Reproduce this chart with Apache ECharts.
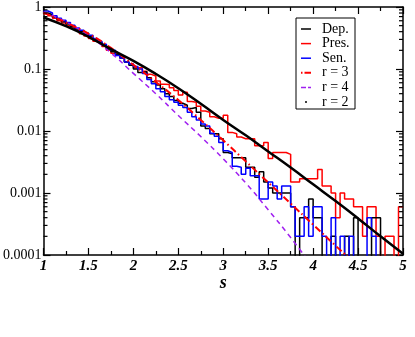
<!DOCTYPE html>
<html>
<head>
<meta charset="utf-8">
<script src="https://cdn.jsdelivr.net/npm/echarts@6/dist/echarts.min.js"></script>
<style>
html,body{margin:0;padding:0;background:#fff;}
#chart{width:415px;height:337px;}
</style>
</head>
<body>
<div id="chart"></div>
<script>
// histogram bins start at s = 1, width 0.05 (80 bins); 0 = empty bin
var binStart = 1.0, binWidth = 0.05;

var dep = [
	0.80, 0.75, 0.69, 0.63, 0.58, 0.53, 0.48, 0.44, 0.40, 0.36,
	0.33, 0.30, 0.27, 0.24, 0.21, 0.19, 0.17, 0.15, 0.13, 0.115,
	0.10, 0.088, 0.090, 0.072, 0.062, 0.055, 0.048, 0.040, 0.036, 0.031,
	0.028, 0.026, 0.023, 0.024, 0.020, 0.012, 0.011, 0.009, 0.009, 0.0075,
	0.0045, 0.0043, 0.0037, 0.0037, 0.0037, 0.0026, 0.0026, 0.0018, 0.0022, 0.0015,
	0.0012, 0.0010, 0.0010, 0.0010, 0.0010, 0.0006, 0, 0.0004, 0.0004, 0.0008,
	0.0004, 0.0004, 0, 0, 0.0002, 0, 0, 0.0002, 0, 0.0004,
	0, 0, 0, 0.0004, 0.0004, 0, 0, 0, 0, 0
];
var pres = [
	0.78, 0.72, 0.66, 0.60, 0.55, 0.50, 0.46, 0.42, 0.37, 0.34,
	0.31, 0.28, 0.27, 0.23, 0.20, 0.18, 0.17, 0.15, 0.13, 0.12,
	0.105, 0.105, 0.092, 0.082, 0.077, 0.064, 0.057, 0.056, 0.050, 0.045,
	0.038, 0.042, 0.030, 0.029, 0.025, 0.021, 0.020, 0.017, 0.016, 0.016,
	0.018, 0.0095, 0.0090, 0.0080, 0.0075, 0.0075, 0.0075, 0.0058, 0.0058, 0.0065,
	0.0036, 0.0045, 0.0045, 0.0045, 0.0042, 0.0015, 0.0015, 0.0017, 0.0017, 0.0017,
	0.0017, 0.0024, 0.0013, 0.0013, 0.0010, 0.0004, 0.0010, 0.0008, 0.0008, 0.0006,
	0.0006, 0.0002, 0.0006, 0.0006, 0.0002, 0, 0.0002, 0.0002, 0, 0.0006
];
var sen = [
	0.86, 0.80, 0.72, 0.66, 0.61, 0.56, 0.51, 0.46, 0.42, 0.38,
	0.35, 0.31, 0.28, 0.25, 0.22, 0.20, 0.165, 0.15, 0.13, 0.12,
	0.11, 0.10, 0.085, 0.068, 0.058, 0.048, 0.043, 0.036, 0.032, 0.029,
	0.026, 0.024, 0.020, 0.017, 0.015, 0.013, 0.012, 0.0092, 0.0082, 0.0065,
	0.0048, 0.0045, 0.0027, 0.0026, 0.0020, 0.0025, 0.0019, 0.0019, 0.0008, 0.0008,
	0.0015, 0.0013, 0.0008, 0.0013, 0.0013, 0.0006, 0.0002, 0.0002, 0.0006, 0.0002,
	0.0006, 0.0006, 0.0002, 0, 0.0004, 0, 0.0002, 0, 0.0002, 0,
	0, 0, 0.0004, 0.0002, 0, 0, 0, 0, 0, 0
];

// model curves
var r2S = [1, 1.25, 1.5, 1.75, 2, 2.25, 2.5, 2.75, 3, 3.25, 3.5, 3.75, 4, 4.25, 4.5, 4.75, 5];
var r2 = [0.676, 0.490, 0.331, 0.209, 0.135, 0.0832, 0.0490, 0.0275, 0.0151, 0.00851,
	0.00468, 0.00257, 0.00138, 0.000741, 0.000389, 0.000200, 0.000105];
var r3S = [1, 1.25, 1.5, 1.75, 2, 2.25, 2.5, 2.75, 3, 3.25, 3.5, 3.75, 4, 4.25, 4.4, 4.5];
var r3 = [0.813, 0.562, 0.372, 0.219, 0.117, 0.0617, 0.0316, 0.0151, 0.00708, 0.00324,
	0.00148, 0.000676, 0.000309, 0.000141, 0.0000891, 0.000063];
var r4S = [1, 1.25, 1.5, 1.75, 2, 2.25, 2.5, 2.75, 3, 3.25, 3.5, 3.75, 4];
var r4 = [0.832, 0.575, 0.347, 0.182, 0.0851, 0.0398, 0.0178, 0.00813, 0.00355, 0.00145,
	0.000537, 0.000191, 0.0000631];

var legendNames = ['Dep.', 'Pres.', 'Sen.', 'r = 3', 'r = 4', 'r = 2'];

var serif = 'Liberation Serif';

function steps(vals) {
	var pts = vals.map(function (v, i) {
		return [binStart + i * binWidth, v > 0 ? v : 1e-8];
	});
	pts.push([binStart + vals.length * binWidth, pts[pts.length - 1][1]]);
	return pts;
}
function pairs(xs, ys) {
	return xs.map(function (x, i) { return [x, ys[i]]; });
}

// minor ticks of the log axis (2..9 in each decade)
var minorVals = [];
[1e-4, 1e-3, 1e-2, 1e-1].forEach(function (d) {
	for (var m = 2; m <= 9; m++) minorVals.push([1, m * d]);
});

var chart = echarts.init(document.getElementById('chart'));

var axisLineStyle = {color: '#000', width: 1.5};

option = {
	animation: false,
	grid: {left: 43, top: 2, width: 360, height: 253},
	xAxis: [{
		type: 'value', min: 1, max: 5, interval: 0.5, position: 'bottom',
		name: 's', nameLocation: 'middle', nameGap: 19, nameMoveOverlap: false,
		nameTextStyle: {fontFamily: serif, fontWeight: 'bold', fontStyle: 'italic', fontSize: 18, color: '#000'},
		axisLine: {onZero: false, lineStyle: axisLineStyle},
		axisTick: {inside: true, length: 7, lineStyle: {color: '#000', width: 1.2}},
		minorTick: {show: true, splitNumber: 2, length: 4, lineStyle: {color: '#000', width: 1.2}},
		axisLabel: {fontFamily: serif, fontWeight: 'bold', fontStyle: 'italic', fontSize: 15, color: '#000', margin: 4},
		splitLine: {show: false}
	}, {
		type: 'value', min: 1, max: 5, interval: 0.5, position: 'top',
		axisLine: {onZero: false, lineStyle: axisLineStyle},
		axisTick: {inside: true, length: 7, lineStyle: {color: '#000', width: 1.2}},
		minorTick: {show: true, splitNumber: 2, length: 4, lineStyle: {color: '#000', width: 1.2}},
		axisLabel: {show: false},
		splitLine: {show: false}
	}],
	yAxis: [{
		type: 'log', logBase: 10, min: 0.0001, max: 1, position: 'left',
		axisLine: {show: true, onZero: false, lineStyle: axisLineStyle},
		axisTick: {show: true, inside: true, length: 7, lineStyle: {color: '#000', width: 1.2}},
		axisLabel: {fontFamily: serif, fontSize: 14, color: '#000', margin: 2,
			formatter: function (v) { return String(+v.toPrecision(1)); }},
		splitLine: {show: false}
	}, {
		type: 'log', logBase: 10, min: 0.0001, max: 1, position: 'right',
		axisLine: {show: true, onZero: false, lineStyle: axisLineStyle},
		axisTick: {show: true, inside: true, length: 7, lineStyle: {color: '#000', width: 1.2}},
		axisLabel: {show: false},
		splitLine: {show: false}
	}],
	series: [
	{
		name: 'Pres.', type: 'line', step: 'end', symbol: 'none',
		lineStyle: {color: '#ff0000', width: 1.5}, data: steps(pres)
	},
	{
		name: 'Dep.', type: 'line', step: 'end', symbol: 'none',
		lineStyle: {color: '#000', width: 1.5}, data: steps(dep)
	},
	{
		name: 'Sen.', type: 'line', step: 'end', symbol: 'none',
		lineStyle: {color: '#0000ff', width: 1.5}, data: steps(sen)
	},
	{
		name: 'r = 4', type: 'line', smooth: true, symbol: 'none',
		lineStyle: {color: '#a020f0', width: 1.5, type: [5, 4]}, data: pairs(r4S, r4)
	},
	{
		name: 'r = 3', type: 'line', smooth: true, symbol: 'none',
		lineStyle: {color: '#ff0000', width: 2, type: [7, 3, 1.5, 3]}, data: pairs(r3S, r3)
	},
	{
		name: 'r = 2', type: 'line', smooth: true, symbol: 'none',
		lineStyle: {color: '#000', width: 2.5}, data: pairs(r2S, r2)
	},
	{
		type: 'custom', silent: true, z: 10,
		data: minorVals,
		renderItem: function (params, api) {
			var v = api.value(1);
			var a = api.coord([1, v]);
			var b = api.coord([5, v]);
			var st = {stroke: '#000', lineWidth: 1.2};
			return {type: 'group', children: [
				{type: 'line', shape: {x1: a[0], y1: a[1], x2: a[0] + 4, y2: a[1]}, style: st},
				{type: 'line', shape: {x1: b[0] - 4, y1: b[1], x2: b[0], y2: b[1]}, style: st}
			]};
		}
	}
	],
	graphic: []
};

// legend box, drawn by hand to get the xmgrace look
var lx = 296, ly = 18, rowH = 14.6;
var g = [{type: 'rect', shape: {x: lx, y: ly, width: 59, height: 91},
	style: {fill: '#fff', stroke: '#000', lineWidth: 1}, z: 20}];
var sample = [
	{stroke: '#000', lineWidth: 1.5},
	{stroke: '#ff0000', lineWidth: 1.5},
	{stroke: '#0000ff', lineWidth: 1.5},
	{stroke: '#ff0000', lineWidth: 2, lineDash: [1.5, 2, 6, 0]},
	{stroke: '#a020f0', lineWidth: 1.5, lineDash: [5, 2]},
	null
];
legendNames.forEach(function (n, i) {
	var y = ly + 11 + i * rowH;
	if (sample[i]) {
		g.push({type: 'line', shape: {x1: lx + 5, y1: y, x2: lx + 15, y2: y}, style: sample[i], z: 21});
	} else {
		g.push({type: 'circle', shape: {cx: lx + 10, cy: y, r: 1}, style: {fill: '#000'}, z: 21});
	}
	g.push({type: 'text', x: lx + 26, y: y, z: 21,
		style: {text: n, font: '14px "Liberation Serif"', fill: '#000', verticalAlign: 'middle'}});
});
option.graphic = g;

chart.setOption(option);
</script>
</body>
</html>
